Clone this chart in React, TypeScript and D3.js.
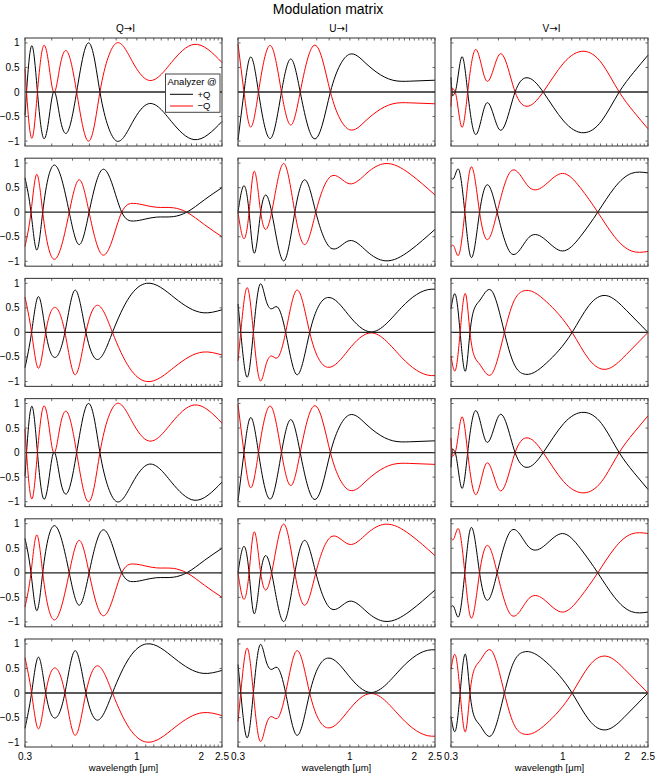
import React from "react";
import * as d3 from "d3";

// labels
const figTitle = "Modulation matrix";
const columnStokes = ["Q", "U", "V"];
const yTicks = [-1, -0.5, 0, 0.5, 1];
const yTickLabels = ["−1", "−0.5", "0", "0.5", "1"];
const xLabelTicks = [0.3, 1, 2, 2.5];
const xLabelText = ["0.3", "1", "2", "2.5"];
const xMinorTicks = d3.range(3, 26).map((i) => i / 10);
const xAxisLabel = "wavelength [μm]";
const legendTitle = "Analyzer @";
const legendLabels = ["+Q", "−Q"];

// +Q analyzer signal, [wavelength µm, normalized intensity]
// (the −Q analyzer is the mirror of it)
const qRowA = [
  [0.3, -0.48], [0.305, 0], [0.324, 0.94], [0.343, 0], [0.365, -0.93],
  [0.387, -0.58], [0.408, 0], [0.437, -0.52], [0.469, -0.84], [0.523, 0],
  [0.592, 1.0], [0.631, 0.71], [0.672, 0], [0.735, -0.71], [0.805, -1.0],
  [0.953, -0.62], [1.13, -0.24], [1.45, -0.6], [1.85, -0.97], [2.5, -0.6],
];
const uRowA = [
  [0.3, -0.98], [0.32, 0], [0.341, 0.7], [0.374, 0], [0.43, -0.93],
  [0.479, 0], [0.532, 0.67], [0.586, 0], [0.679, -0.95], [0.742, -0.68],
  [0.811, 0], [0.9, 0.55], [0.998, 0.77], [1.19, 0.58], [1.326, 0.41],
  [1.588, 0.24], [1.898, 0.22], [2.5, 0.24],
];
const vRowA = [
  [0.3, 0.3], [0.303, 0], [0.308, -0.06], [0.314, 0], [0.338, 0.72],
  [0.359, 0], [0.389, -0.86], [0.437, -0.24], [0.506, -0.77], [0.598, 0],
  [0.673, 0.29], [0.809, 0], [1.008, -0.59], [1.255, -0.83], [1.517, -0.59],
  [1.834, 0], [2.142, 0.4], [2.5, 0.75],
];
const qRowB = [
  [0.3, 0.7], [0.32, 0], [0.34, -0.77], [0.363, 0], [0.412, 0.96],
  [0.483, 0], [0.539, -0.66], [0.598, 0], [0.685, 0.86], [0.763, 0.6],
  [0.85, 0], [0.963, -0.18], [1.094, -0.14], [1.237, -0.1], [1.481, -0.09],
  [1.71, 0], [2.065, 0.25], [2.5, 0.5],
];
const uRowB = [
  [0.3, 0], [0.32, 0.54], [0.338, 0], [0.354, -0.8], [0.383, 0],
  [0.403, 0.35], [0.431, 0], [0.493, -0.99], [0.553, 0], [0.616, 0.66],
  [0.693, 0], [0.814, -0.73], [0.992, -0.58], [1.203, -0.8], [1.459, -0.99],
  [1.91, -0.78], [2.5, -0.35],
];
const vRowB = [
  [0.3, 0.7], [0.308, 0.68], [0.325, 0.88], [0.348, 0], [0.37, -0.9],
  [0.408, 0], [0.439, 0.55], [0.493, 0], [0.57, -0.83], [0.695, -0.51],
  [0.996, -0.79], [1.206, -0.5], [1.456, 0], [1.744, 0.5], [2.09, 0.79],
  [2.5, 0.8],
];
const qRowC = [
  [0.3, -0.72], [0.322, 0], [0.346, 0.73], [0.375, 0], [0.414, -0.51],
  [0.461, 0], [0.513, 0.86], [0.578, 0], [0.648, -0.55], [0.769, 0],
  [0.923, 0.72], [1.109, 1.0], [1.505, 0.7], [2.04, 0.4], [2.5, 0.46],
];
const uRowC = [
  [0.3, 0.58], [0.309, 0], [0.332, -0.91], [0.354, 0], [0.38, 0.98],
  [0.404, 0.68], [0.429, 0.48], [0.458, 0.52], [0.501, 0], [0.564, -0.86],
  [0.649, 0], [0.786, 0.71], [0.984, 0.36], [1.255, 0.01], [1.746, 0.51],
  [2.4, 0.88], [2.5, 0.88],
];
const vRowC = [
  [0.3, 0.48], [0.314, 0.78], [0.331, 0], [0.352, -0.77], [0.368, 0],
  [0.387, 0.5], [0.407, 0.64], [0.462, 0.86], [0.533, 0], [0.588, -0.62],
  [0.649, -0.84], [0.835, -0.63], [1.105, 0], [1.325, 0.55], [1.595, 0.75],
  [1.98, 0.45], [2.5, 0],
];
const vRowD = [
  [0.3, -0.3], [0.303, 0], [0.308, 0.06], [0.314, 0], [0.338, -0.73],
  [0.359, 0], [0.389, 0.85], [0.437, 0.23], [0.506, 0.77], [0.598, 0],
  [0.673, -0.3], [0.809, 0], [1.008, 0.59], [1.255, 0.82], [1.517, 0.59],
  [1.834, 0], [2.142, -0.4], [2.5, -0.75],
];
const vRowE = [
  [0.3, -0.7], [0.308, -0.68], [0.325, -0.9], [0.348, 0], [0.37, 0.9],
  [0.408, 0], [0.439, -0.55], [0.493, 0], [0.57, 0.85], [0.695, 0.52],
  [0.996, 0.8], [1.206, 0.5], [1.456, 0], [1.744, -0.5], [2.09, -0.79],
  [2.5, -0.8],
];
const vRowF = [
  [0.3, -0.48], [0.314, -0.78], [0.331, 0], [0.352, 0.77], [0.368, 0],
  [0.387, -0.5], [0.407, -0.64], [0.462, -0.87], [0.533, 0], [0.588, 0.62],
  [0.649, 0.83], [0.835, 0.63], [1.105, 0], [1.325, -0.55], [1.595, -0.75],
  [1.98, -0.45], [2.5, 0],
];

const grid = [
  [qRowA, uRowA, vRowA],
  [qRowB, uRowB, vRowB],
  [qRowC, uRowC, vRowC],
  [qRowA, uRowA, vRowD],
  [qRowB, uRowB, vRowE],
  [qRowC, uRowC, vRowF],
];

const W = 656;
const H = 778;
const PW = 197;
const PH = 108;
const LEFTS = [25, 238, 451];
const TOP0 = 38;
const ROW_STEP = 120.2;
const FONT = "'Liberation Sans', Arial, Helvetica, sans-serif";
const AXIS = "#444";

// natural cubic spline in x, drawn as bezier segments
function curveNaturalX(context) {
  let xs: number[] = [];
  let ys: number[] = [];
  return {
    areaStart() {},
    areaEnd() {},
    lineStart() {
      xs = [];
      ys = [];
    },
    point(x: number, y: number) {
      xs.push(+x);
      ys.push(+y);
    },
    lineEnd() {
      const n = xs.length;
      if (!n) return;
      context.moveTo(xs[0], ys[0]);
      if (n === 1) return;
      const h = xs.slice(1).map((v, i) => v - xs[i]);
      const a = new Array(n).fill(0);
      const b = new Array(n).fill(1);
      const c = new Array(n).fill(0);
      const r = new Array(n).fill(0);
      for (let i = 1; i < n - 1; i++) {
        a[i] = h[i - 1];
        b[i] = 2 * (h[i - 1] + h[i]);
        c[i] = h[i];
        r[i] = 6 * ((ys[i + 1] - ys[i]) / h[i] - (ys[i] - ys[i - 1]) / h[i - 1]);
      }
      for (let i = 1; i < n; i++) {
        const m = a[i] / b[i - 1];
        b[i] -= m * c[i - 1];
        r[i] -= m * r[i - 1];
      }
      const M = new Array(n).fill(0);
      M[n - 1] = r[n - 1] / b[n - 1];
      for (let i = n - 2; i >= 0; i--) M[i] = (r[i] - c[i] * M[i + 1]) / b[i];
      for (let i = 0; i < n - 1; i++) {
        const hi = h[i];
        const sec = (ys[i + 1] - ys[i]) / hi;
        const m0 = sec - (hi * (2 * M[i] + M[i + 1])) / 6;
        const m1 = sec + (hi * (M[i] + 2 * M[i + 1])) / 6;
        context.bezierCurveTo(
          xs[i] + hi / 3, ys[i] + (m0 * hi) / 3,
          xs[i + 1] - hi / 3, ys[i + 1] - (m1 * hi) / 3,
          xs[i + 1], ys[i + 1]
        );
      }
    },
  };
}

function Panel({ data, left, top, row, col }) {
  const x = d3.scaleLog().domain([0.3, 2.5]).range([left, left + PW]);
  const y = d3.scaleLinear().domain([-1.1, 1.1]).range([top + PH, top]);
  const line = d3
    .line<number[]>()
    .x((d) => x(d[0]))
    .y((d) => y(d[1]))
    .curve(curveNaturalX as any);
  const minus = data.map(([w, v]) => [w, -v]);
  const last = row === grid.length - 1;

  return (
    <g>
      <path d={line(data) ?? ""} fill="none" stroke="#000" strokeWidth={1} />
      <path d={line(minus) ?? ""} fill="none" stroke="#ff0000" strokeWidth={1} />
      <line x1={left} x2={left + PW} y1={y(0)} y2={y(0)} stroke="#222" strokeWidth={1.3} />

      {xMinorTicks.map((t) => (
        <g key={"xt" + t} stroke={AXIS} strokeWidth={0.8}>
          <line x1={x(t)} x2={x(t)} y1={top} y2={top + 2.5} />
          <line x1={x(t)} x2={x(t)} y1={top + PH} y2={top + PH - 2.5} />
        </g>
      ))}
      {yTicks.map((t) => (
        <g key={"yt" + t} stroke={AXIS} strokeWidth={0.8}>
          <line x1={left} x2={left + 2.5} y1={y(t)} y2={y(t)} />
          <line x1={left + PW} x2={left + PW - 2.5} y1={y(t)} y2={y(t)} />
        </g>
      ))}
      <rect x={left} y={top} width={PW} height={PH} fill="none" stroke={AXIS} strokeWidth={1.1} />

      {col === 0 &&
        yTicks.map((t, i) => (
          <text key={"yl" + t} x={left - 5.5} y={y(t)} dy="0.35em" textAnchor="end" fontSize={10} fontFamily={FONT}>
            {yTickLabels[i]}
          </text>
        ))}
      {last &&
        xLabelTicks.map((t, i) => (
          <text key={"xl" + t} x={x(t)} y={top + PH + 13} textAnchor="middle" fontSize={10} fontFamily={FONT}>
            {xLabelText[i]}
          </text>
        ))}
      {last && (
        <text x={left + PW / 2} y={770.5} textAnchor="middle" fontSize={9.5} fontFamily={FONT}>
          {xAxisLabel}
        </text>
      )}
      {row === 0 && (
        <text x={left + PW / 2 + 2} y={31.5} textAnchor="middle" fontSize={10} fontFamily={FONT}>
          {columnStokes[col]}
          <tspan fontFamily="'DejaVu Sans', sans-serif" fontSize={10}>→</tspan>
          I
        </text>
      )}
      {row === 0 && col === 0 && (
        <g fontFamily={FONT} fontSize={9.5}>
          <rect x={left + PW - 56.5} y={top + 36} width={54.5} height={38.3} fill="#fff" stroke={AXIS} strokeWidth={1} />
          <text x={left + PW - 54.5} y={top + 47}>{legendTitle}</text>
          <line x1={left + PW - 52} x2={left + PW - 29} y1={top + 56.3} y2={top + 56.3} stroke="#000" />
          <text x={left + PW - 24.5} y={top + 59.5}>{legendLabels[0]}</text>
          <line x1={left + PW - 52} x2={left + PW - 29} y1={top + 68} y2={top + 68} stroke="#ff0000" />
          <text x={left + PW - 24.5} y={top + 71}>{legendLabels[1]}</text>
        </g>
      )}
    </g>
  );
}

export default function App() {
  return (
    <svg
      width={W}
      height={H}
      viewBox={`0 0 ${W} ${H}`}
      style={{ position: "absolute", left: 0, top: 0, background: "#fff" }}
    >
      <text x={328} y={13.5} textAnchor="middle" fontSize={14} fontFamily={FONT}>
        {figTitle}
      </text>
      {grid.map((rowData, r) =>
        rowData.map((d, c) => (
          <Panel key={r + "-" + c} data={d} left={LEFTS[c]} top={TOP0 + r * ROW_STEP} row={r} col={c} />
        ))
      )}
    </svg>
  );
}
